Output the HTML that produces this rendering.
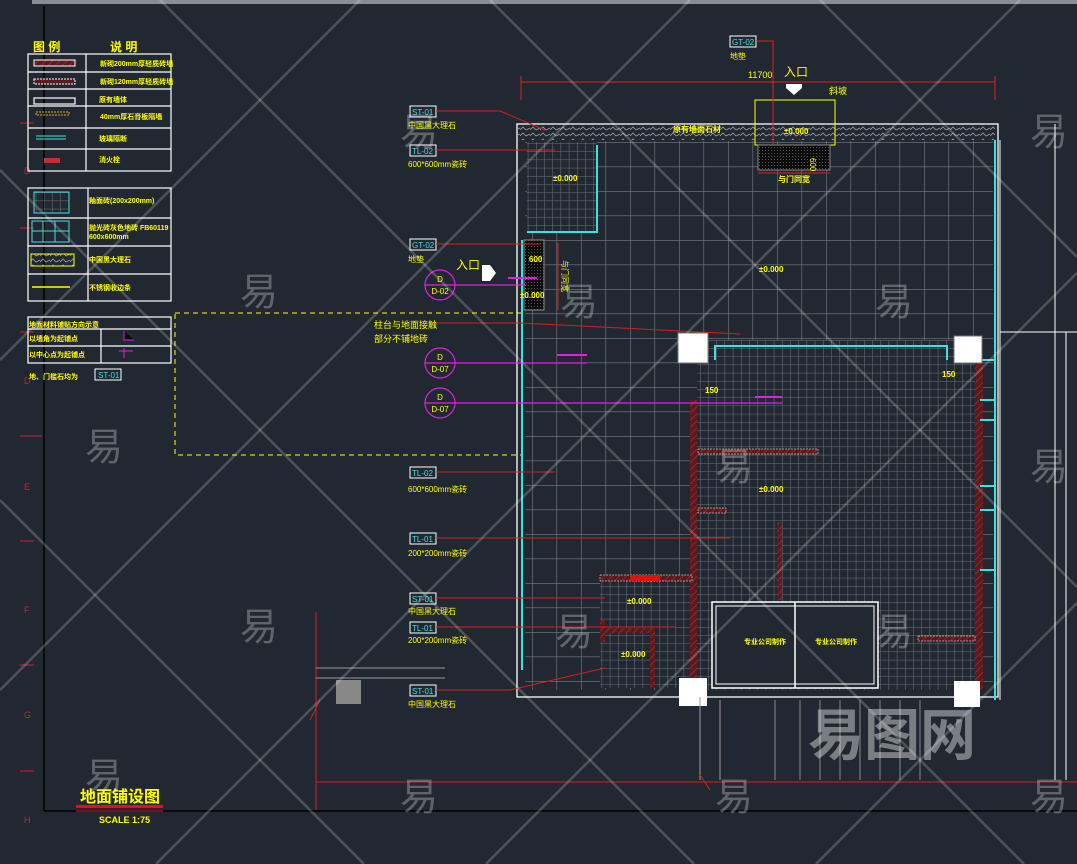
<!DOCTYPE html>
<html><head><meta charset="utf-8"><style>
html,body{margin:0;padding:0;background:#222831;}
svg{display:block;}
text{font-family:"Liberation Sans","Noto Sans CJK SC",sans-serif;}
</style></head><body>
<svg width="1077" height="864" viewBox="0 0 1077 864" xmlns="http://www.w3.org/2000/svg">
<defs>
<pattern id="g1" x="532" y="142" width="24.5" height="24.5" patternUnits="userSpaceOnUse"><path d="M0 0V24.5M0 0H24.5" stroke="#767c84" stroke-width="1.2" fill="none"/></pattern>
<pattern id="g2" x="700" y="340" width="8.2" height="8.2" patternUnits="userSpaceOnUse"><path d="M0 0V8.2M0 0H8.2" stroke="#6e747c" stroke-width="1" fill="none"/></pattern>
<pattern id="h" width="5" height="5" patternUnits="userSpaceOnUse" patternTransform="rotate(45)"><rect width="5" height="5" fill="#5a1a1e"/><path d="M0 0V5" stroke="#b0303a" stroke-width="1.2"/></pattern>
<pattern id="ht" width="10" height="6" patternUnits="userSpaceOnUse"><path d="M0 4l3-3 3 3 4-2" stroke="#9aa0a6" stroke-width="0.8" fill="none"/></pattern>
<pattern id="blk" width="3" height="3" patternUnits="userSpaceOnUse"><rect width="3" height="3" fill="#0c0c0c"/><rect width="1" height="1" fill="#555"/></pattern>
</defs>
<rect width="1077" height="864" fill="#222831"/>
<rect x="32" y="0" width="1045" height="4" fill="#8a8e94"/>
<line x1="44" y1="6" x2="44" y2="811" stroke="#000" stroke-width="1.5"/>
<line x1="44" y1="811" x2="1077" y2="811" stroke="#000" stroke-width="1.5"/>
<g fill="#d02030" font-size="9">
<text x="24" y="174">D</text><text x="24" y="384">D</text><text x="24" y="490">E</text><text x="24" y="613">F</text><text x="24" y="718">G</text><text x="24" y="823">H</text>
</g>
<g stroke="#d02030"><line x1="20" y1="123" x2="34" y2="123"/><line x1="20" y1="228" x2="34" y2="228"/><line x1="20" y1="332" x2="34" y2="332"/><line x1="20" y1="436" x2="42" y2="436"/><line x1="20" y1="541" x2="34" y2="541"/><line x1="20" y1="665" x2="34" y2="665"/><line x1="20" y1="771" x2="34" y2="771"/></g>

<g fill="#ffff00" font-size="12" font-weight="bold"><text x="33" y="51">图 例</text><text x="110" y="51">说 明</text></g>
<g stroke="#fff" fill="none" stroke-width="1.2">
<rect x="28" y="54" width="143" height="117"/><line x1="86" y1="54" x2="86" y2="171"/>
<line x1="28" y1="72" x2="171" y2="72"/><line x1="28" y1="89" x2="171" y2="89"/><line x1="28" y1="106" x2="171" y2="106"/><line x1="28" y1="128" x2="171" y2="128"/><line x1="28" y1="149" x2="171" y2="149"/>
<rect x="28" y="188" width="143" height="113"/><line x1="88" y1="188" x2="88" y2="301"/>
<line x1="28" y1="218" x2="171" y2="218"/><line x1="28" y1="246" x2="171" y2="246"/><line x1="28" y1="274" x2="171" y2="274"/>
<rect x="28" y="317" width="143" height="46"/><line x1="101" y1="329" x2="101" y2="363"/>
<line x1="28" y1="329" x2="171" y2="329"/><line x1="28" y1="346" x2="171" y2="346"/>
<rect x="34" y="98" width="41" height="6"/>
</g>
<rect x="34" y="60" width="41" height="6" fill="url(#h)" stroke="#fff"/>
<rect x="34" y="79" width="41" height="5" fill="#5a1a1e" stroke="#fff" stroke-dasharray="2 1"/>
<rect x="36" y="112" width="33" height="3" fill="none" stroke="#e0a030" stroke-dasharray="2 1"/>
<line x1="36" y1="136" x2="66" y2="136" stroke="#40e0e0"/><line x1="36" y1="139" x2="66" y2="139" stroke="#40e0e0"/>
<rect x="44" y="158" width="16" height="5" fill="#c03030"/>
<g fill="#ffff00" font-size="7" font-weight="bold">
<text x="100" y="66">新砌200mm厚轻质砖墙</text><text x="100" y="84">新砌120mm厚轻质砖墙</text><text x="99" y="102">原有墙体</text><text x="100" y="119">40mm厚石膏板隔墙</text><text x="99" y="141">玻璃隔断</text><text x="99" y="162">消火栓</text>
<text x="89" y="203">釉面砖(200x200mm)</text><text x="89" y="230">抛光砖灰色地砖 FB60119</text><text x="89" y="239">600x600mm</text><text x="89" y="262">中国黑大理石</text><text x="89" y="290">不锈钢收边条</text>
<text x="29" y="327">地面材料铺贴方向示意</text><text x="29" y="341">以墙角为起铺点</text><text x="29" y="357">以中心点为起铺点</text><text x="29" y="379">地、门槛石均为</text>
</g>
<rect x="34" y="192" width="35" height="21" fill="url(#g2)" stroke="#40e0e0"/>
<g stroke="#40e0e0" fill="none"><rect x="32" y="221" width="37" height="21"/><line x1="43" y1="221" x2="43" y2="242"/><line x1="55" y1="221" x2="55" y2="242"/><line x1="32" y1="231" x2="69" y2="231"/></g>
<rect x="31" y="254" width="43" height="12" fill="url(#ht)" stroke="#ffff00"/>
<line x1="32" y1="287" x2="70" y2="287" stroke="#ffff00" stroke-width="1.5"/>
<g stroke="#e020e0"><path d="M124 331V340H134M124 348V358M119 351H133"/></g>
<rect x="95" y="369" width="26" height="11" fill="none" stroke="#fff"/><text x="98" y="378" font-size="8" fill="#40e0e0">ST-01</text>

<rect x="175" y="313" width="347" height="142" fill="none" stroke="#ffff00" stroke-dasharray="5 4"/>

<rect x="517" y="124" width="481" height="573" fill="none" stroke="#fff" stroke-width="1.3"/>
<rect x="517" y="124" width="478" height="16" fill="url(#ht)"/>
<rect x="525" y="141" width="468" height="549" fill="url(#g1)"/>
<rect x="697" y="340" width="280" height="350" fill="#222831"/>
<rect x="697" y="340" width="280" height="350" fill="url(#g2)"/>
<rect x="527" y="142" width="70" height="90" fill="#222831"/>
<rect x="527" y="142" width="70" height="90" fill="url(#g2)"/>
<rect x="600" y="580" width="92" height="108" fill="#222831"/>
<rect x="600" y="580" width="92" height="108" fill="url(#g2)"/>
<rect x="712" y="602" width="166" height="86" fill="#222831" stroke="#fff" stroke-width="1.5"/>
<line x1="795" y1="602" x2="795" y2="688" stroke="#fff" stroke-width="1.5"/>
<rect x="716" y="606" width="158" height="78" fill="none" stroke="#fff"/>
<g fill="#ffff00" font-size="7" font-weight="bold"><text x="744" y="644">专业公司制作</text><text x="815" y="644">专业公司制作</text></g>
<rect x="690" y="400" width="7" height="290" fill="url(#h)"/>
<rect x="975" y="355" width="8" height="335" fill="url(#h)"/>
<rect x="698" y="449" width="120" height="5" fill="url(#h)" stroke="#fff" stroke-width="0.5" stroke-dasharray="2 1"/>
<rect x="698" y="508" width="28" height="5" fill="url(#h)" stroke="#fff" stroke-width="0.5" stroke-dasharray="2 1"/>
<rect x="777" y="522" width="5" height="78" fill="url(#h)"/>
<rect x="918" y="636" width="57" height="5" fill="url(#h)" stroke="#fff" stroke-width="0.5" stroke-dasharray="2 1"/>
<rect x="600" y="575" width="92" height="6" fill="url(#h)" stroke="#fff" stroke-width="0.5" stroke-dasharray="2 1"/>
<rect x="630" y="575" width="30" height="6" fill="#e01010"/>
<rect x="600" y="620" width="5" height="22" fill="url(#h)"/>
<rect x="605" y="628" width="50" height="5" fill="url(#h)"/>
<rect x="650" y="633" width="5" height="55" fill="url(#h)"/>
<g stroke="#40e0e0" stroke-width="2" fill="none">
<line x1="522" y1="240" x2="522" y2="670"/><line x1="995" y1="140" x2="995" y2="700"/>
<path d="M597 145V232H527"/><path d="M715 360V346H947V360"/>
<path d="M980 360H995M980 400H995M980 420H995M980 486H995M980 510H995M980 570H995"/>
</g>
<line x1="1000" y1="140" x2="1000" y2="700" stroke="#fff"/>
<rect x="678" y="333" width="30" height="30" fill="#fff" stroke="#777"/>
<rect x="954" y="336" width="28" height="27" fill="#fff" stroke="#777"/>
<rect x="679" y="678" width="28" height="28" fill="#fff"/>
<rect x="954" y="681" width="26" height="26" fill="#fff"/>
<rect x="755" y="100" width="80" height="45" fill="none" stroke="#ffff00"/>
<rect x="758" y="145" width="72" height="25" fill="url(#blk)" stroke="#888"/>
<rect x="524" y="240" width="20" height="70" fill="url(#blk)" stroke="#888"/>
<line x1="558" y1="243" x2="558" y2="310" stroke="#e02020"/>
<g fill="#ffff00" font-size="8" font-weight="bold">
<text x="784" y="134">±0.000</text><text x="553" y="181">±0.000</text><text x="759" y="272">±0.000</text><text x="759" y="492">±0.000</text><text x="627" y="604">±0.000</text><text x="621" y="657">±0.000</text><text x="520" y="298">±0.000</text><text x="529" y="262">600</text><text x="705" y="393">150</text><text x="942" y="377">150</text>
<text x="673" y="132">原有墙面石材</text><text x="778" y="182">与门同宽</text>
</g>
<text x="814" y="162" fill="#ffff00" font-size="8" transform="rotate(90 814 158)">600</text>
<text x="562" y="260" fill="#ffff00" font-size="8" transform="rotate(90 562 260)">与门同宽</text>
<line x1="521" y1="82" x2="995" y2="82" stroke="#e02020"/>
<line x1="521" y1="76" x2="521" y2="100" stroke="#e02020"/><line x1="995" y1="76" x2="995" y2="100" stroke="#e02020"/>
<text x="748" y="78" fill="#ffff00" font-size="9">11700</text>
<text x="784" y="76" fill="#ffff00" font-size="12">入口</text>
<path d="M786 84H802V88L794 95L786 88Z" fill="#fff"/>
<text x="829" y="94" fill="#ffff00" font-size="9">斜坡</text>
<line x1="758" y1="173" x2="830" y2="173" stroke="#e02020"/>
<rect x="730" y="36" width="26" height="11" fill="none" stroke="#fff"/><text x="732" y="45" font-size="8" fill="#40e0e0">GT-02</text>
<text x="730" y="59" fill="#ffff00" font-size="8">地垫</text>
<path d="M756 41H773V145" stroke="#e02020" fill="none"/>
<text x="456" y="269" fill="#ffff00" font-size="12">入口</text>
<path d="M482 265H490L496 273L490 281H482Z" fill="#fff"/>
<g font-size="8">
<rect x="410" y="106" width="26" height="11" fill="none" stroke="#fff"/><text x="412" y="115" fill="#40e0e0">ST-01</text>
<rect x="410" y="145" width="26" height="11" fill="none" stroke="#fff"/><text x="412" y="154" fill="#40e0e0">TL-02</text>
<rect x="410" y="239" width="26" height="11" fill="none" stroke="#fff"/><text x="412" y="248" fill="#40e0e0">GT-02</text>
<rect x="410" y="467" width="26" height="11" fill="none" stroke="#fff"/><text x="412" y="476" fill="#40e0e0">TL-02</text>
<rect x="410" y="533" width="26" height="11" fill="none" stroke="#fff"/><text x="412" y="542" fill="#40e0e0">TL-01</text>
<rect x="410" y="593" width="26" height="11" fill="none" stroke="#fff"/><text x="412" y="602" fill="#40e0e0">ST-01</text>
<rect x="410" y="622" width="26" height="11" fill="none" stroke="#fff"/><text x="412" y="631" fill="#40e0e0">TL-01</text>
<rect x="410" y="685" width="26" height="11" fill="none" stroke="#fff"/><text x="412" y="694" fill="#40e0e0">ST-01</text>
</g>
<g fill="#ffff00" font-size="8">
<text x="408" y="128">中国黑大理石</text><text x="408" y="167">600*600mm瓷砖</text><text x="408" y="262">地垫</text><text x="408" y="492">600*600mm瓷砖</text><text x="408" y="556">200*200mm瓷砖</text><text x="408" y="614">中国黑大理石</text><text x="408" y="643">200*200mm瓷砖</text><text x="408" y="707">中国黑大理石</text>
<text x="374" y="328" font-size="9">柱台与地面接触</text><text x="374" y="342" font-size="9">部分不铺地砖</text>
</g>
<g stroke="#d02020" fill="none">
<path d="M436 111H500L545 130"/><path d="M436 150H555"/><path d="M436 244H540"/><path d="M436 472H555"/><path d="M436 538H730"/><path d="M436 598H605"/><path d="M436 627H675"/><path d="M436 690H510L605 668"/>
<path d="M436 323H520L740 334"/>
</g>
<g stroke="#e020e0" fill="none" stroke-width="1.2">
<circle cx="440" cy="285" r="15"/><line x1="425" y1="285" x2="525" y2="285"/>
<circle cx="440" cy="363" r="15"/><line x1="425" y1="363" x2="587" y2="363"/>
<circle cx="440" cy="403" r="15"/><line x1="425" y1="403" x2="782" y2="403"/>
<line x1="508" y1="278" x2="537" y2="278" stroke-width="2"/><line x1="557" y1="355" x2="587" y2="355" stroke-width="2"/><line x1="755" y1="397" x2="782" y2="397" stroke-width="2"/>
</g>
<g fill="#ffff00" font-size="8" text-anchor="middle">
<text x="440" y="282">D</text><text x="440" y="294">D-02</text><text x="440" y="360">D</text><text x="440" y="372">D-07</text><text x="440" y="400">D</text><text x="440" y="412">D-07</text>
</g>
<g stroke="#fff" fill="none">
<line x1="1055" y1="124" x2="1055" y2="780"/><line x1="1000" y1="332" x2="1077" y2="332"/><line x1="1066" y1="332" x2="1066" y2="780"/>
<line x1="700" y1="697" x2="700" y2="780" stroke="#999"/><line x1="720" y1="700" x2="720" y2="780" stroke="#999"/>
<path d="M775 700V780M800 700V780M820 700V780M840 700V780M860 700V780M880 700V780M900 700V780M920 700V780" stroke="#888"/>
<path d="M315 668H445M315 678H445" stroke="#999"/>
</g>
<rect x="336" y="680" width="25" height="24" fill="#888"/>
<g stroke="#d02020" fill="none">
<path d="M316 612V810"/><path d="M316 782H1077"/><path d="M310 720L320 700"/><path d="M700 775L710 790"/>
</g>
<text x="80" y="802" fill="#ffff00" font-size="16" font-weight="bold">地面铺设图</text>
<rect x="76" y="805" width="87" height="3" fill="#e01020"/>
<line x1="76" y1="811" x2="163" y2="811" stroke="#e01020"/>
<text x="99" y="823" fill="#ffff00" font-size="9" font-weight="bold">SCALE 1:75</text>
<g stroke="#ffffff" stroke-opacity="0.2" stroke-width="2.5" fill="none">
<line x1="160" y1="0" x2="1024" y2="864"/><line x1="490" y1="0" x2="1077" y2="587"/><line x1="820" y1="0" x2="1077" y2="257"/>
<line x1="0" y1="170" x2="694" y2="864"/><line x1="0" y1="500" x2="364" y2="864"/>
<line x1="360" y1="0" x2="0" y2="360"/><line x1="690" y1="0" x2="0" y2="690"/><line x1="1020" y1="0" x2="156" y2="864"/><line x1="1077" y1="273" x2="486" y2="864"/><line x1="1077" y1="603" x2="816" y2="864"/>
</g>
<g fill="#ffffff" fill-opacity="0.28" font-size="38">
<text x="240" y="305">易</text><text x="560" y="315">易</text><text x="875" y="315">易</text><text x="85" y="460">易</text><text x="715" y="480">易</text><text x="1030" y="480">易</text><text x="240" y="640">易</text><text x="555" y="645">易</text><text x="875" y="645">易</text><text x="85" y="790">易</text><text x="400" y="810">易</text><text x="715" y="810">易</text><text x="1030" y="810">易</text><text x="1030" y="145">易</text><text x="400" y="145">易</text>
</g>
<text x="808" y="755" fill="#ffffff" fill-opacity="0.4" font-size="56" font-weight="bold">易图网</text>
</svg>
</body></html>
